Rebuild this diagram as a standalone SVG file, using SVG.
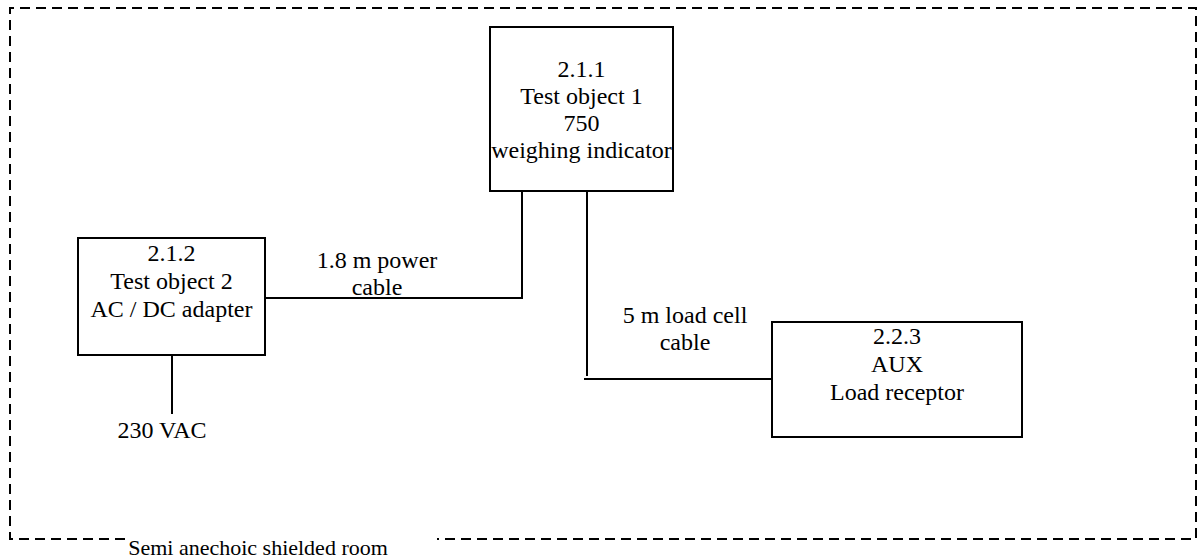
<svg xmlns="http://www.w3.org/2000/svg" width="1201" height="560" viewBox="0 0 1201 560">
<style>
.box{fill:#fff;stroke:#000;stroke-width:2}
.wire{fill:none;stroke:#000;stroke-width:2}
.room{fill:none;stroke:#000;stroke-width:2;stroke-dasharray:10 6}
text{font-family:"Liberation Serif","Times New Roman",serif;font-size:24px;fill:#000;text-anchor:middle}
</style>
<rect width="1201" height="560" fill="#fff"/>
<g id="room">
<path class="room" d="M125,539 H10 V8 H1196 V539 H437"/>
<text x="258" y="555" style="font-size:22px">Semi anechoic shielded room</text>
</g>
<g id="connectors">
<path class="wire" d="M265,298 H522 V191"/>
<path class="wire" d="M587,191 V376"/>
<path class="wire" d="M584,379 H772"/>
<path class="wire" d="M172,355 V414"/>
<text x="377" y="268">1.8 m power</text>
<text x="377" y="295">cable</text>
<text x="685" y="323">5 m load cell</text>
<text x="685" y="350">cable</text>
<text x="162" y="438">230 VAC</text>
</g>
<g id="node-211">
<rect class="box" x="490" y="27" width="183" height="164"/>
<text x="581.5" y="77">2.1.1</text>
<text x="581.5" y="104">Test object 1</text>
<text x="581.5" y="131">750</text>
<text x="581.5" y="158">weighing indicator</text>
</g>
<g id="node-212">
<rect class="box" x="78" y="238" width="187" height="117"/>
<text x="171.5" y="261">2.1.2</text>
<text x="171.5" y="289">Test object 2</text>
<text x="171.5" y="317">AC / DC adapter</text>
</g>
<g id="node-223">
<rect class="box" x="772" y="322" width="250" height="115"/>
<text x="897" y="344">2.2.3</text>
<text x="897" y="372">AUX</text>
<text x="897" y="400">Load receptor</text>
</g>
</svg>
